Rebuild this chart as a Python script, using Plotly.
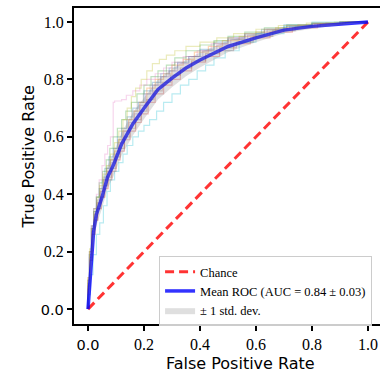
import plotly.graph_objects as go

# ---- data ----
fold_fpr = [
    [0, 0.005, 0.012, 0.02, 0.03, 0.04, 0.05, 0.06, 0.075, 0.09, 0.105, 0.12, 0.14, 0.16, 0.18, 0.2, 0.23, 0.26, 0.29, 0.32, 0.36, 0.4, 0.45, 0.5, 0.56, 0.62, 0.7, 0.8, 0.9, 1.0],
    [0, 0.006, 0.014, 0.022, 0.032, 0.043, 0.055, 0.068, 0.08, 0.095, 0.11, 0.125, 0.145, 0.165, 0.185, 0.21, 0.24, 0.27, 0.3, 0.34, 0.38, 0.43, 0.48, 0.54, 0.6, 0.67, 0.75, 0.85, 0.93, 1.0],
    [0, 0.005, 0.012, 0.02, 0.03, 0.04, 0.052, 0.065, 0.078, 0.09, 0.105, 0.12, 0.135, 0.155, 0.175, 0.2, 0.225, 0.25, 0.28, 0.31, 0.35, 0.4, 0.45, 0.5, 0.56, 0.63, 0.71, 0.8, 0.9, 1.0],
    [0, 0.007, 0.015, 0.025, 0.035, 0.047, 0.06, 0.072, 0.085, 0.1, 0.115, 0.13, 0.15, 0.17, 0.19, 0.215, 0.24, 0.27, 0.3, 0.33, 0.37, 0.42, 0.47, 0.52, 0.58, 0.65, 0.73, 0.82, 0.91, 1.0],
    [0, 0.005, 0.013, 0.022, 0.033, 0.045, 0.058, 0.07, 0.083, 0.097, 0.11, 0.128, 0.146, 0.165, 0.185, 0.205, 0.23, 0.26, 0.29, 0.32, 0.36, 0.41, 0.46, 0.51, 0.57, 0.64, 0.72, 0.81, 0.9, 1.0],
    [0, 0.006, 0.014, 0.024, 0.034, 0.046, 0.058, 0.07, 0.085, 0.1, 0.115, 0.13, 0.15, 0.17, 0.19, 0.21, 0.235, 0.265, 0.295, 0.33, 0.37, 0.42, 0.47, 0.53, 0.59, 0.66, 0.74, 0.83, 0.92, 1.0],
    [0, 0.005, 0.012, 0.02, 0.03, 0.04, 0.05, 0.06, 0.07, 0.08, 0.09, 0.095, 0.12, 0.137, 0.16, 0.185, 0.21, 0.24, 0.27, 0.3, 0.34, 0.39, 0.44, 0.5, 0.56, 0.63, 0.71, 0.8, 0.9, 1.0],
    [0, 0.005, 0.012, 0.021, 0.031, 0.042, 0.054, 0.066, 0.078, 0.092, 0.106, 0.121, 0.138, 0.156, 0.176, 0.198, 0.222, 0.25, 0.28, 0.31, 0.35, 0.4, 0.45, 0.5, 0.56, 0.63, 0.71, 0.8, 0.9, 1.0],
    [0, 0.006, 0.014, 0.022, 0.032, 0.042, 0.054, 0.066, 0.08, 0.095, 0.11, 0.125, 0.14, 0.155, 0.17, 0.19, 0.21, 0.23, 0.255, 0.28, 0.31, 0.35, 0.4, 0.46, 0.52, 0.6, 0.68, 0.78, 0.88, 1.0],
    [0, 0.008, 0.018, 0.03, 0.042, 0.055, 0.068, 0.08, 0.095, 0.11, 0.125, 0.14, 0.16, 0.18, 0.2, 0.22, 0.245, 0.27, 0.3, 0.33, 0.36, 0.39, 0.42, 0.45, 0.49, 0.54, 0.6, 0.7, 0.8, 1.0],
]
fold_tpr = [
    [0, 0.09, 0.19, 0.29, 0.35, 0.39, 0.42, 0.45, 0.49, 0.53, 0.56, 0.6, 0.63, 0.67, 0.7, 0.72, 0.76, 0.79, 0.82, 0.84, 0.86, 0.88, 0.905, 0.93, 0.945, 0.96, 0.975, 0.99, 0.995, 1.0],
    [0, 0.11, 0.2, 0.28, 0.33, 0.37, 0.41, 0.45, 0.48, 0.52, 0.55, 0.59, 0.62, 0.66, 0.69, 0.72, 0.77, 0.8, 0.82, 0.85, 0.87, 0.895, 0.915, 0.935, 0.95, 0.965, 0.98, 0.99, 0.997, 1.0],
    [0, 0.1, 0.2, 0.28, 0.34, 0.39, 0.44, 0.48, 0.52, 0.56, 0.6, 0.63, 0.66, 0.69, 0.72, 0.75, 0.78, 0.81, 0.83, 0.85, 0.875, 0.9, 0.92, 0.935, 0.95, 0.965, 0.98, 0.99, 0.996, 1.0],
    [0, 0.07, 0.17, 0.26, 0.31, 0.35, 0.39, 0.42, 0.45, 0.48, 0.52, 0.55, 0.59, 0.62, 0.65, 0.68, 0.72, 0.75, 0.78, 0.8, 0.83, 0.86, 0.88, 0.9, 0.925, 0.945, 0.965, 0.98, 0.993, 1.0],
    [0, 0.09, 0.18, 0.27, 0.32, 0.37, 0.41, 0.45, 0.48, 0.51, 0.54, 0.58, 0.62, 0.65, 0.68, 0.71, 0.75, 0.78, 0.81, 0.83, 0.855, 0.88, 0.9, 0.92, 0.94, 0.955, 0.975, 0.987, 0.995, 1.0],
    [0, 0.08, 0.17, 0.26, 0.31, 0.35, 0.39, 0.43, 0.46, 0.49, 0.53, 0.56, 0.6, 0.63, 0.66, 0.69, 0.73, 0.76, 0.79, 0.815, 0.84, 0.865, 0.89, 0.91, 0.93, 0.95, 0.97, 0.985, 0.995, 1.0],
    [0, 0.1, 0.2, 0.29, 0.35, 0.4, 0.45, 0.5, 0.54, 0.57, 0.6, 0.72, 0.725, 0.73, 0.745, 0.76, 0.78, 0.8, 0.82, 0.84, 0.86, 0.88, 0.9, 0.925, 0.945, 0.96, 0.975, 0.988, 0.996, 1.0],
    [0, 0.1, 0.19, 0.28, 0.34, 0.38, 0.42, 0.46, 0.49, 0.52, 0.56, 0.59, 0.63, 0.66, 0.69, 0.72, 0.75, 0.78, 0.81, 0.83, 0.86, 0.88, 0.9, 0.925, 0.94, 0.955, 0.972, 0.986, 0.995, 1.0],
    [0, 0.11, 0.21, 0.29, 0.35, 0.39, 0.43, 0.47, 0.5, 0.54, 0.58, 0.62, 0.66, 0.7, 0.74, 0.77, 0.8, 0.83, 0.855, 0.87, 0.885, 0.9, 0.915, 0.93, 0.945, 0.96, 0.975, 0.988, 0.996, 1.0],
    [0, 0.05, 0.12, 0.19, 0.26, 0.3, 0.36, 0.41, 0.45, 0.48, 0.51, 0.54, 0.57, 0.6, 0.62, 0.64, 0.66, 0.69, 0.72, 0.75, 0.78, 0.8, 0.83, 0.85, 0.875, 0.9, 0.93, 0.96, 0.985, 1.0],
]
fold_colors = ["#1f77b4", "#ff7f0e", "#2ca02c", "#d62728", "#9467bd",
               "#8c564b", "#e377c2", "#7f7f7f", "#bcbd22", "#17becf"]

mean_fpr = [0, 0.01, 0.02, 0.03, 0.05, 0.07, 0.09, 0.12, 0.16, 0.2, 0.25, 0.3, 0.35,
            0.4, 0.45, 0.5, 0.6, 0.7, 0.8, 0.9, 1.0]
mean_tpr = [0, 0.16, 0.27, 0.33, 0.39, 0.46, 0.50, 0.575, 0.645, 0.70, 0.765, 0.805, 0.84,
            0.868, 0.892, 0.915, 0.945, 0.972, 0.985, 0.994, 1.0]
std_tpr = [0, 0.035, 0.04, 0.04, 0.04, 0.04, 0.04, 0.04, 0.04, 0.038, 0.035, 0.032, 0.029,
           0.026, 0.023, 0.02, 0.015, 0.011, 0.008, 0.004, 0]

chance_x = [0, 1]
chance_y = [0, 1]

x_ticks = [0.0, 0.2, 0.4, 0.6, 0.8, 1.0]
y_ticks = [0.0, 0.2, 0.4, 0.6, 0.8, 1.0]
tick_labels = ["0.0", "0.2", "0.4", "0.6", "0.8", "1.0"]

SERIF = "Liberation Serif"
SANS = "DejaVu Sans"


def hex_rgba(h, a):
    h = h.lstrip("#")
    return "rgba(%d,%d,%d,%.2f)" % (int(h[0:2], 16), int(h[2:4], 16), int(h[4:6], 16), a)


fig = go.Figure()

for fx, fy, c in zip(fold_fpr, fold_tpr, fold_colors):
    fig.add_trace(go.Scatter(x=fx, y=fy, mode="lines", line=dict(color=hex_rgba(c, 0.3), width=1.2, shape="vh"),
                             showlegend=False, hoverinfo="skip"))

fig.add_trace(go.Scatter(x=chance_x, y=chance_y, mode="lines", name="Chance",
                         line=dict(color="rgba(255,0,0,0.8)", width=3, dash="9px,5px")))

fig.add_trace(go.Scatter(x=mean_fpr, y=mean_tpr, mode="lines", name="Mean ROC (AUC = 0.84 ± 0.03)",
                         line=dict(color="rgba(0,0,255,0.8)", width=3.5)))

lower = [max(m - s, 0) for m, s in zip(mean_tpr, std_tpr)]
upper = [min(m + s, 1) for m, s in zip(mean_tpr, std_tpr)]
fig.add_trace(go.Scatter(x=mean_fpr, y=lower, mode="lines", line=dict(width=0, color="rgba(0,0,0,0)"),
                         showlegend=False, hoverinfo="skip"))
fig.add_trace(go.Scatter(x=mean_fpr, y=upper, mode="lines", fill="tonexty", fillcolor="rgba(128,128,128,0.25)",
                         line=dict(width=0, color="rgba(0,0,0,0)"), name="± 1 std. dev."))


def tt(labels):
    out = []
    for lab in labels:
        if lab == "0.0":
            out.append('<span style="font-family:\'DejaVu Sans\',sans-serif;font-size:14.5px">%s</span>' % lab)
        else:
            out.append('<span style="font-family:\'Liberation Serif\',serif;font-size:16px">%s</span>' % lab)
    return out


fig.update_layout(
    width=380, height=372,
    margin=dict(l=74, r=0, t=8, b=48),
    paper_bgcolor="white", plot_bgcolor="white",
    font=dict(family=SANS, color="black", size=14),
    legend=dict(x=0.278, y=0.215, xanchor="left", yanchor="top", traceorder="normal",
                bgcolor="rgba(255,255,255,0.8)", bordercolor="#cccccc", borderwidth=1,
                font=dict(family=SERIF, size=12.5, color="black"),
                tracegroupgap=0, itemwidth=30),
    xaxis=dict(range=[-0.05, 1.043], tickvals=x_ticks, ticktext=tt(tick_labels),
               tickfont=dict(family=SERIF, size=16, color="black"),
               ticks="outside", ticklen=5, tickwidth=1.5, tickcolor="black",
               showline=True, linecolor="black", linewidth=2, mirror=True,
               showgrid=False, zeroline=False),
    yaxis=dict(range=[-0.052, 1.049], tickvals=y_ticks, ticktext=tt(tick_labels),
               tickfont=dict(family=SERIF, size=16, color="black"),
               ticks="outside", ticklen=5, tickwidth=1.5, tickcolor="black",
               showline=True, linecolor="black", linewidth=2, mirror=False,
               showgrid=False, zeroline=False),
    annotations=[
        dict(text="False Positive Rate", xref="paper", yref="paper", x=0.5425, y=-0.124,
             xanchor="center", yanchor="middle", showarrow=False,
             font=dict(family=SANS, size=16, color="black")),
        dict(text="True Positive Rate", xref="paper", yref="paper", x=-0.150, y=0.53,
             xanchor="center", yanchor="middle", showarrow=False, textangle=-90,
             font=dict(family=SANS, size=16, color="black")),
    ],
)

fig.write_html("out.html")
